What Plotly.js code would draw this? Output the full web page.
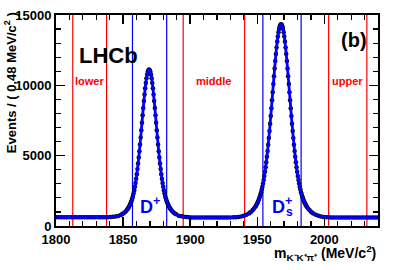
<!DOCTYPE html>
<html>
<head>
<meta charset="utf-8">
<script src="https://cdn.plot.ly/plotly-3.0.1.min.js"></script>
<style>html,body{margin:0;padding:0;background:#fff;}#chart{width:399px;height:270px;}</style>
</head>
<body>
<div id="chart"></div>
<script>
// Invariant mass bin centres (MeV/c^2) and event counts per 0.48 MeV/c^2 bin
const massData = [
1800.24,1802.16,1804.08,1806.00,1807.92,1809.84,1811.76,1813.68,1815.60,1817.52,1819.44,1821.36,1823.28,1825.20,1827.12,1829.04,1830.96,1832.88,1834.80,1836.72,
1838.64,1840.56,1842.48,1844.40,1846.32,1848.24,
1849.20,1850.16,1851.12,1852.08,1853.04,1853.52,1854.00,1854.48,1854.96,1855.44,1855.92,1856.40,1856.88,1857.36,1857.84,1858.32,1858.80,1859.28,1859.76,1860.24,1860.72,1861.20,1861.68,1862.16,1862.64,1863.12,1863.60,1864.08,1864.56,1865.04,1865.52,1866.00,1866.48,1866.96,1867.44,1867.92,1868.40,1868.88,1869.36,
1869.84,1870.32,1870.80,1871.28,1871.76,1872.24,1872.72,1873.20,1873.68,1874.16,1874.64,1875.12,1875.60,1876.08,1876.56,1877.04,1877.52,1878.00,1878.48,1878.96,1879.44,1879.92,1880.40,1880.88,1881.36,1881.84,1882.32,1882.80,1883.28,1883.76,1884.24,1884.72,1885.20,1885.68,1886.64,1887.60,1888.56,1889.52,
1891.44,1893.36,1895.28,1897.20,1899.12,1901.04,1902.96,1904.88,1906.80,1908.72,1910.64,1912.56,1914.48,1916.40,1918.32,1920.24,1922.16,1924.08,1926.00,1927.92,1929.84,1932.24,1934.16,1936.08,1938.00,1939.92,1941.84,
1943.76,1944.72,1945.68,1946.64,1947.60,1948.56,1949.04,1949.52,1950.00,1950.48,1950.96,1951.44,1951.92,1952.40,1952.88,1953.36,1953.84,1954.32,1954.80,1955.28,1955.76,1956.24,1956.72,1957.20,1957.68,1958.16,1958.64,1959.12,1959.60,1960.08,1960.56,1961.04,1961.52,1962.00,1962.48,1962.96,1963.44,1963.92,1964.40,1964.88,1965.36,1965.84,1966.32,1966.80,1967.28,1967.76,
1968.24,1968.72,1969.20,1969.68,1970.16,1970.64,1971.12,1971.60,1972.08,1972.56,1973.04,1973.52,1974.00,1974.48,1974.96,1975.44,1975.92,1976.40,1976.88,1977.36,1977.84,1978.32,1978.80,1979.28,1979.76,1980.24,1980.72,1981.20,1981.68,1982.16,1982.64,1983.12,1983.60,1984.08,1984.56,1985.04,1985.52,1986.00,1986.48,1986.96,1987.92,1988.88,1989.84,1990.80,1991.76,
1993.68,1995.60,1997.52,1999.44,2001.36,2003.28,2005.20,2007.12,2009.04,2010.96,2012.88,2014.80,2016.72,2018.64,2020.56,2022.48,2024.40,2026.32,2028.24,2030.16,2032.08,2034.00,2035.92,2037.84,2039.76
];
const eventsData = [
620,622,618,620,621,619,620,622,620,618,620,621,620,619,620,622,620,621,620,622,
628,636,650,676,719,787,
834,894,967,1056,1166,1230,1303,1383,1475,1578,1694,1825,1973,2141,2330,2545,2785,3054,3352,3683,4045,4440,4865,5319,5799,6299,6814,7339,7865,8382,8880,9352,9784,10172,10502,10766,10962,11080,11120,
11080,10962,10766,10502,10172,9784,9352,8880,8382,7865,7339,6814,6299,5799,5319,4865,4440,4045,3683,3352,3054,2785,2545,2330,2141,1973,1825,1694,1578,1475,1383,1303,1230,1166,1056,967,894,834,
735,685,655,635,622,612,608,605,602,600,601,599,600,600,601,600,599,600,600,602,606,615,627,647,677,724,793,
892,959,1036,1129,1238,1370,1446,1528,1619,1719,1831,1952,2089,2239,2408,2592,2797,3026,3274,3549,3851,4178,4537,4923,5338,5782,6255,6753,7274,7816,8373,8941,9514,10088,10654,11203,11732,12230,12692,13108,13473,13782,14027,14206,14314,14350,
14314,14206,14027,13782,13473,13108,12692,12230,11732,11203,10654,10088,9514,8941,8373,7816,7274,6753,6255,5782,5338,4923,4537,4178,3851,3549,3274,3026,2797,2592,2408,2239,2089,1952,1831,1719,1619,1528,1446,1370,1238,1129,1036,959,892,
793,724,677,647,627,615,608,604,602,600,600,599,600,601,600,599,600,600,598,600,599,598,600,598,597
];
// Sideband (red) and signal window (blue) boundaries, MeV/c^2
const redEdges = [1812.5, 1837.7, 1894.8, 1940.6, 2003.2, 2031.7];
const blueEdges = [1857.0, 1882.5, 1954.2, 1982.7];
const regionNames = ['lower', 'middle', 'upper'];
const xTicks = [1800, 1850, 1900, 1950, 2000];
const yTicks = [0, 5000, 10000, 15000];

const F = 'Liberation Sans, Arial, Helvetica, sans-serif';

const shapes = [];
redEdges.forEach(v => shapes.push({type:'line', xref:'x', yref:'paper', x0:v, x1:v, y0:0, y1:1, layer:'below', line:{color:'#ff0000', width:1.2}}));
blueEdges.forEach(v => shapes.push({type:'line', xref:'x', yref:'paper', x0:v, x1:v, y0:0, y1:1, layer:'below', line:{color:'#0000ff', width:1.2}}));

const annotations = [];
regionNames.forEach((name, i) => {
  annotations.push({xref:'x', yref:'y', x:(redEdges[2*i]+redEdges[2*i+1])/2, y:10300, text:'<b>'+name+'</b>', showarrow:false,
    font:{family:F, size:11, color:'#ff0000'}, xanchor:'center', yanchor:'middle'});
});
annotations.push({xref:'paper', yref:'paper', x:0.163, y:0.808, text:'<b>LHCb</b>', showarrow:false, font:{family:F, size:22, color:'#000'}, xanchor:'center', yanchor:'middle'});
annotations.push({xref:'paper', yref:'paper', x:0.924, y:0.882, text:'<b>(b)</b>', showarrow:false, font:{family:F, size:20, color:'#000'}, xanchor:'center', yanchor:'middle'});
annotations.push({xref:'paper', yref:'paper', x:0.293, y:0.095, text:'<b>D<sup>+</sup></b>', showarrow:false, font:{family:F, size:18, color:'#0000ff'}, xanchor:'center', yanchor:'middle'});
annotations.push({xref:'paper', yref:'paper', x:0.703, y:0.095, text:'<b>D<sup>+</sup></b>', showarrow:false, font:{family:F, size:18, color:'#0000ff'}, xanchor:'center', yanchor:'middle'});
annotations.push({xref:'paper', yref:'paper', x:0.726, y:0.066, text:'<b>s</b>', showarrow:false, font:{family:F, size:12, color:'#0000ff'}, xanchor:'center', yanchor:'middle'});
annotations.push({xref:'paper', yref:'paper', x:-0.144, y:0.68, text:'<b>Events / ( 0.48 MeV/c<sup>2</sup> )</b>', textangle:-90, showarrow:false, font:{family:F, size:13, color:'#000'}, xanchor:'center', yanchor:'middle'});
annotations.push({xref:'paper', yref:'paper', x:1.0, y:-0.128, text:'<b>m<sub>K⁻K⁺π⁺</sub> (MeV/c<sup>2</sup>)</b>', showarrow:false, font:{family:F, size:14, color:'#000'}, xanchor:'right', yanchor:'middle'});

const dataTrace = {x:massData, y:eventsData, type:'scatter', mode:'markers', marker:{color:'#000', size:4.5}, hoverinfo:'skip'};
const fitTrace = {x:massData, y:eventsData, type:'scatter', mode:'lines', line:{color:'#0000ff', width:2.8, shape:'spline', smoothing:0.6}, hoverinfo:'skip'};

const axisCommon = {showgrid:false, zeroline:false, showline:true, linecolor:'#000', linewidth:2, mirror:'allticks',
  ticks:'inside', ticklen:9, tickwidth:1.5, tickcolor:'#000', tickfont:{family:F, size:13, color:'#000', weight:700}};

const layout = {
  width:399, height:270,
  margin:{l:55.5, r:21, t:15, b:44, pad:0},
  paper_bgcolor:'#fff', plot_bgcolor:'#fff',
  showlegend:false,
  xaxis:Object.assign({}, axisCommon, {range:[1800, 2040], tickmode:'array', tickvals:xTicks, ticktext:xTicks.map(String),
    minor:{dtick:10, tick0:1800, ticks:'inside', ticklen:5, tickwidth:1.2, tickcolor:'#000'}}),
  yaxis:Object.assign({}, axisCommon, {range:[0, 15000], tickmode:'array', tickvals:yTicks, ticktext:yTicks.map(String),
    minor:{dtick:1000, tick0:0, ticks:'inside', ticklen:5, tickwidth:1.2, tickcolor:'#000'}}),
  shapes:shapes,
  annotations:annotations
};

Plotly.newPlot('chart', [dataTrace, fitTrace], layout, {staticPlot:true, displayModeBar:false});
</script>
</body>
</html>
